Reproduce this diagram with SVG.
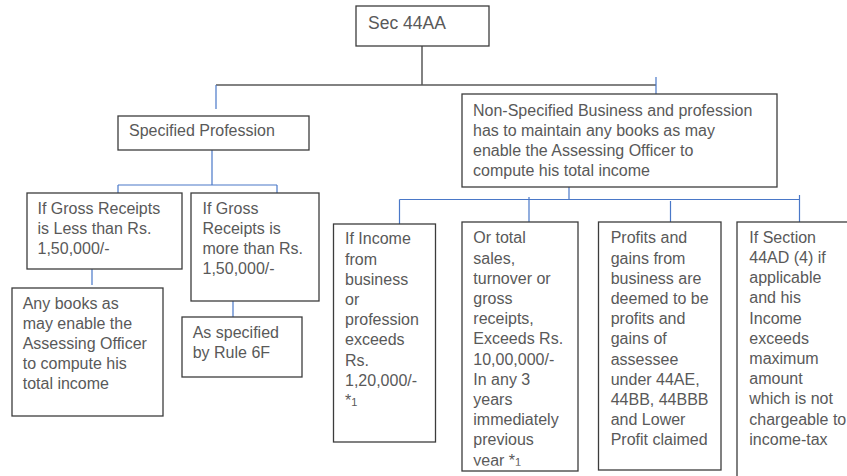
<svg xmlns="http://www.w3.org/2000/svg" width="847" height="476" viewBox="0 0 847 476">
  <style>
    .box { fill: #ffffff; stroke: #3c3c3c; stroke-width: 1.3; }
    .t { font-family: "Liberation Sans", Arial, sans-serif; font-size: 16px; fill: #595959; }
    .title { font-size: 17.5px; }
    .sub { font-size: 11px; }
    .gray { stroke: #595959; stroke-width: 1.5; fill: none; }
    .blue { stroke: #4a78c8; stroke-width: 1.2; fill: none; }
  </style>
  <defs>
    <clipPath id="clip-sales">
      <rect x="462" y="222" width="116" height="243.8"/>
    </clipPath>
  </defs>
  <rect width="847" height="476" fill="#ffffff"/>

  <!-- connectors -->
  <g id="connectors">
    <path class="gray" d="M422 46 V85 M216 85 H656"/>
    <path class="blue" d="M216 85 V109 M656 77 V94"/>
    <path class="blue" d="M212 150 V185 M118 185 H277 M118 185 V193 M277 185 V193"/>
    <path class="blue" d="M92 269 V285 M233 294 V317"/>
    <path class="blue" d="M569 187 V199.5 M399.5 199.5 H799.5"/>
    <path class="blue" d="M399.5 199.5 V224 M529 197 V222 M670.5 201 V222 M799.5 195 V222"/>
  </g>

  <g id="sec44aa">
    <rect class="box" x="356" y="6" width="133" height="40"/>
    <text class="t title" x="368" y="29">Sec 44AA</text>
  </g>

  <g id="specified-profession">
    <rect class="box" x="118" y="116" width="191" height="34"/>
    <text class="t" x="129" y="136">Specified Profession</text>
  </g>

  <g id="non-specified">
    <rect class="box" x="462" y="94" width="315" height="93"/>
    <text class="t" x="473">
      <tspan x="473" y="115.5">Non-Specified Business and profession</tspan>
      <tspan x="473" y="135.5">has to maintain any books as may</tspan>
      <tspan x="473" y="155.5">enable the Assessing Officer to</tspan>
      <tspan x="473" y="175.5">compute his total income</tspan>
    </text>
  </g>

  <g id="gross-less">
    <rect class="box" x="27" y="193" width="155" height="76"/>
    <text class="t">
      <tspan x="37.5" y="214.3">If Gross Receipts</tspan>
      <tspan x="37.5" y="234.3">is Less than Rs.</tspan>
      <tspan x="37.5" y="254.3">1,50,000/-</tspan>
    </text>
  </g>

  <g id="gross-more">
    <rect class="box" x="191" y="193" width="128" height="108"/>
    <text class="t">
      <tspan x="202.5" y="214.3">If Gross</tspan>
      <tspan x="202.5" y="234.3">Receipts is</tspan>
      <tspan x="202.5" y="254.3">more than Rs.</tspan>
      <tspan x="202.5" y="274.3">1,50,000/-</tspan>
    </text>
  </g>

  <g id="any-books">
    <rect class="box" x="12" y="288" width="151" height="128"/>
    <text class="t">
      <tspan x="22.7" y="309.3">Any books as</tspan>
      <tspan x="22.7" y="329.3">may enable the</tspan>
      <tspan x="22.7" y="349.3">Assessing Officer</tspan>
      <tspan x="22.7" y="369.3">to compute his</tspan>
      <tspan x="22.7" y="389.3">total income</tspan>
    </text>
  </g>

  <g id="rule-6f">
    <rect class="box" x="182" y="317" width="120" height="60"/>
    <text class="t">
      <tspan x="192.7" y="338.3">As specified</tspan>
      <tspan x="192.7" y="358.3">by Rule 6F</tspan>
    </text>
  </g>

  <g id="income-exceeds">
    <rect class="box" x="333.5" y="224" width="102" height="218"/>
    <text class="t">
      <tspan x="345" y="244.3">If Income</tspan>
      <tspan x="345" y="264.5">from</tspan>
      <tspan x="345" y="284.7">business</tspan>
      <tspan x="345" y="304.9">or</tspan>
      <tspan x="345" y="325.1">profession</tspan>
      <tspan x="345" y="345.3">exceeds</tspan>
      <tspan x="345" y="365.5">Rs.</tspan>
      <tspan x="345" y="385.7">1,20,000/-</tspan>
      <tspan x="345" y="405.9">*<tspan class="sub">1</tspan></tspan>
    </text>
  </g>

  <g id="total-sales">
    <rect class="box" x="462" y="222" width="116" height="249"/>
    <text class="t" clip-path="url(#clip-sales)">
      <tspan x="473.3" y="243.3">Or total</tspan>
      <tspan x="473.3" y="263.5">sales,</tspan>
      <tspan x="473.3" y="283.7">turnover or</tspan>
      <tspan x="473.3" y="303.9">gross</tspan>
      <tspan x="473.3" y="324.1">receipts,</tspan>
      <tspan x="473.3" y="344.3">Exceeds Rs.</tspan>
      <tspan x="473.3" y="364.5">10,00,000/-</tspan>
      <tspan x="473.3" y="384.7">In any 3</tspan>
      <tspan x="473.3" y="404.9">years</tspan>
      <tspan x="473.3" y="425.1">immediately</tspan>
      <tspan x="473.3" y="445.3">previous</tspan>
      <tspan x="473.3" y="465.5">year *<tspan class="sub">1</tspan></tspan>
    </text>
  </g>

  <g id="deemed-profits">
    <rect class="box" x="598.5" y="222" width="122.5" height="248"/>
    <text class="t">
      <tspan x="610.7" y="243.3">Profits and</tspan>
      <tspan x="610.7" y="263.5">gains from</tspan>
      <tspan x="610.7" y="283.7">business are</tspan>
      <tspan x="610.7" y="303.9">deemed to be</tspan>
      <tspan x="610.7" y="324.1">profits and</tspan>
      <tspan x="610.7" y="344.3">gains of</tspan>
      <tspan x="610.7" y="364.5">assessee</tspan>
      <tspan x="610.7" y="384.7">under 44AE,</tspan>
      <tspan x="610.7" y="404.9">44BB, 44BBB</tspan>
      <tspan x="610.7" y="425.1">and Lower</tspan>
      <tspan x="610.7" y="445.3">Profit claimed</tspan>
    </text>
  </g>

  <g id="section-44ad">
    <rect class="box" x="737" y="222" width="130" height="270"/>
    <text class="t">
      <tspan x="749.3" y="242.8">If Section</tspan>
      <tspan x="749.3" y="263">44AD (4) if</tspan>
      <tspan x="749.3" y="283.2">applicable</tspan>
      <tspan x="749.3" y="303.4">and his</tspan>
      <tspan x="749.3" y="323.6">Income</tspan>
      <tspan x="749.3" y="343.8">exceeds</tspan>
      <tspan x="749.3" y="364">maximum</tspan>
      <tspan x="749.3" y="384.2">amount</tspan>
      <tspan x="749.3" y="404.4">which is not</tspan>
      <tspan x="749.3" y="424.6">chargeable to</tspan>
      <tspan x="749.3" y="444.8">income-tax</tspan>
    </text>
  </g>
</svg>
